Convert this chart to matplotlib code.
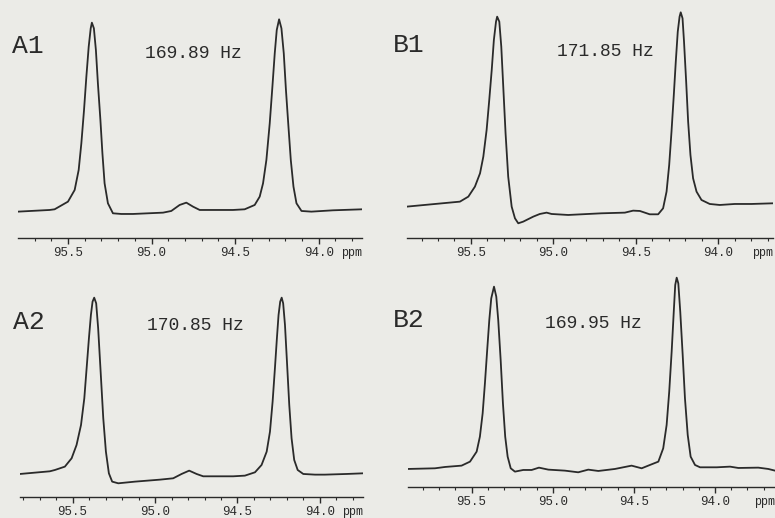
import matplotlib
matplotlib.use("Agg")
import matplotlib.pyplot as plt
from matplotlib.ticker import FixedLocator, MultipleLocator

# ---------------- data (chemical shift in ppm, intensity in a.u.) ----------------
a1_ppm = [95.799, 95.610, 95.580, 95.500, 95.460, 95.436, 95.420, 95.404, 95.390, 95.376,
          95.364, 95.357, 95.345, 95.333, 95.321, 95.306, 95.294, 95.281, 95.261, 95.231,
          95.181, 95.111, 94.931, 94.882, 94.832, 94.792, 94.752, 94.712, 94.513, 94.443,
          94.383, 94.353, 94.333, 94.313, 94.293, 94.277, 94.263, 94.251, 94.237, 94.223,
          94.209, 94.196, 94.181, 94.167, 94.151, 94.133, 94.103, 94.044, 93.914, 93.741]
a1_int = [8.0, 8.5, 8.7, 11.0, 14.5, 20.5, 28.5, 38.5, 48.5, 57.5,
          63.0, 64.7, 63.0, 56.5, 46.5, 35.5, 25.5, 16.5, 10.5, 7.5,
          7.3, 7.3, 7.7, 8.2, 10.0, 10.7, 9.5, 8.5, 8.5, 8.7,
          10.0, 12.5, 16.5, 23.5, 34.5, 45.5, 55.5, 62.5, 65.7, 63.0,
          55.5, 44.5, 33.5, 23.5, 15.5, 10.5, 8.2, 8.0, 8.4, 8.7]

b1_ppm = [95.890, 95.718, 95.567, 95.516, 95.476, 95.445, 95.425, 95.405, 95.389, 95.374,
          95.361, 95.348, 95.341, 95.328, 95.316, 95.304, 95.290, 95.274, 95.253, 95.233,
          95.213, 95.183, 95.122, 95.082, 95.041, 95.011, 94.910, 94.708, 94.566, 94.516,
          94.475, 94.415, 94.364, 94.334, 94.313, 94.297, 94.283, 94.269, 94.257, 94.245,
          94.234, 94.227, 94.216, 94.207, 94.194, 94.182, 94.168, 94.152, 94.131, 94.101,
          94.051, 93.990, 93.899, 93.798, 93.667]
b1_int = [9.5, 10.3, 11.0, 12.5, 15.5, 19.5, 24.5, 32.5, 41.5, 50.5,
          59.5, 65.0, 66.5, 65.0, 57.5, 45.5, 31.5, 18.5, 9.5, 6.0,
          4.5, 5.0, 6.5, 7.3, 7.7, 7.3, 7.0, 7.5, 7.7, 8.3,
          8.2, 7.2, 7.2, 9.0, 14.0, 22.0, 32.0, 43.0, 53.0, 62.0,
          66.5, 67.8, 66.0, 59.0, 47.0, 35.0, 25.0, 18.0, 14.0, 11.5,
          10.3, 10.0, 10.3, 10.3, 10.5]

a2_ppm = [95.819, 95.638, 95.607, 95.547, 95.506, 95.476, 95.449, 95.429, 95.415, 95.401,
          95.389, 95.379, 95.369, 95.357, 95.345, 95.330, 95.314, 95.298, 95.280, 95.260,
          95.223, 95.122, 94.970, 94.890, 94.839, 94.793, 94.748, 94.708, 94.526, 94.455,
          94.394, 94.354, 94.323, 94.303, 94.287, 94.273, 94.261, 94.251, 94.241, 94.232,
          94.223, 94.212, 94.200, 94.186, 94.172, 94.156, 94.135, 94.101, 94.030, 93.970,
          93.838, 93.737]
a2_int = [7.0, 7.8, 8.2, 9.2, 11.7, 15.7, 21.7, 29.7, 38.7, 47.7,
          54.7, 58.7, 59.9, 58.2, 50.7, 37.7, 23.7, 13.7, 7.2, 4.7,
          4.2, 4.7, 5.3, 5.7, 7.0, 8.0, 7.0, 6.3, 6.3, 6.5,
          7.5, 9.7, 13.7, 19.7, 28.7, 38.7, 47.7, 54.7, 58.7, 59.9,
          58.2, 51.7, 40.7, 27.7, 17.7, 11.2, 8.2, 7.0, 6.8, 6.8,
          7.0, 7.2]

b2_ppm = [95.894, 95.726, 95.664, 95.562, 95.510, 95.469, 95.449, 95.432, 95.418, 95.404,
          95.391, 95.379, 95.362, 95.348, 95.336, 95.321, 95.307, 95.293, 95.278, 95.259,
          95.233, 95.182, 95.130, 95.085, 95.027, 94.925, 94.843, 94.781, 94.719, 94.617,
          94.514, 94.452, 94.401, 94.349, 94.319, 94.298, 94.282, 94.267, 94.254, 94.245,
          94.236, 94.226, 94.214, 94.199, 94.185, 94.168, 94.150, 94.123, 94.092, 93.989,
          93.907, 93.856, 93.733, 93.671, 93.630]
b2_int = [5.5, 5.7, 6.1, 6.5, 7.7, 10.7, 15.2, 22.2, 31.2, 41.2,
          50.2, 56.7, 60.2, 57.2, 50.2, 38.2, 25.2, 15.2, 9.2, 5.7,
          4.7, 5.2, 5.2, 5.9, 5.3, 5.0, 4.5, 5.3, 4.9, 5.5,
          6.5, 5.7, 6.7, 7.7, 11.7, 18.7, 28.7, 40.7, 52.7, 60.7,
          62.9, 61.2, 52.7, 39.7, 26.7, 15.7, 9.2, 6.7, 6.0, 6.0,
          6.2, 5.8, 5.9, 5.5, 5.0]

panel_names = ["A1", "B1", "A2", "B2"]
coupling_labels = ["169.89 Hz", "171.85 Hz", "170.85 Hz", "169.95 Hz"]
major_ticks = [95.5, 95.0, 94.5, 94.0]
tick_labels = ["95.5", "95.0", "94.5", "94.0"]
series = [(a1_ppm, a1_int), (b1_ppm, b1_int), (a2_ppm, a2_int), (b2_ppm, b2_int)]

# ---------------- layout ----------------
W, H = 775, 518
BG = "#ebebe7"
INK = "#2a2a2a"
FONT = ["Liberation Mono", "DejaVu Sans Mono"]

# (left px, right px, spine px, top px, xlim left, xlim right, ymax)
layout = [
    (18.0, 362.0, 238.3, 0.0, 95.799, 93.741, 71.5),
    (406.7, 773.0, 238.3, 0.0, 95.890, 93.667, 71.5),
    (20.0, 363.3, 497.3, 259.0, 95.819, 93.737, 71.5),
    (407.7, 775.0, 487.3, 259.0, 95.894, 93.630, 68.5),
]
# (name x, name y, label x, label y) in px
text_pos = [
    (12, 46, 145, 53),
    (393, 45, 557, 51),
    (13, 322, 147, 326),
    (393, 320, 545, 324),
]

fig = plt.figure(figsize=(W / 100, H / 100), dpi=100)
fig.patch.set_facecolor(BG)

for (xs, ys), (l, r, sp, tp, x0, x1, ymax), name, lab, (nx, ny, lx, ly) in zip(
        series, layout, panel_names, coupling_labels, text_pos):
    ax = fig.add_axes([l / W, 1 - sp / H, (r - l) / W, (sp - tp) / H])
    ax.set_facecolor("none")
    ax.plot(xs, ys, color=INK, lw=1.3, solid_joinstyle="round")
    ax.set_xlim(x0, x1)
    ax.set_ylim(0, ymax)
    for s in ["top", "left", "right"]:
        ax.spines[s].set_visible(False)
    ax.spines["bottom"].set_color(INK)
    ax.spines["bottom"].set_linewidth(1.0)
    ax.set_yticks([])
    ax.xaxis.set_major_locator(FixedLocator(major_ticks))
    ax.set_xticklabels(tick_labels, family=FONT, fontsize=9, color=INK)
    ax.xaxis.set_minor_locator(MultipleLocator(0.1))
    ax.tick_params(axis="x", which="major", direction="out", length=4.5, width=1.0,
                   color=INK, pad=1.5)
    ax.tick_params(axis="x", which="minor", direction="out", length=2.2, width=0.8,
                   color=INK)
    ax.annotate("ppm", xy=(1.0, 0.0), xycoords="axes fraction",
                xytext=(0, -6), textcoords="offset points", ha="right", va="top",
                family=FONT, fontsize=8.5, color=INK, annotation_clip=False)
    fig.text(nx / W, 1 - ny / H, name, family=FONT, fontsize=19, color=INK,
             ha="left", va="center")
    fig.text(lx / W, 1 - ly / H, lab, family=FONT, fontsize=13, color=INK,
             ha="left", va="center")

fig.savefig("out.png", dpi=100, facecolor=BG)
